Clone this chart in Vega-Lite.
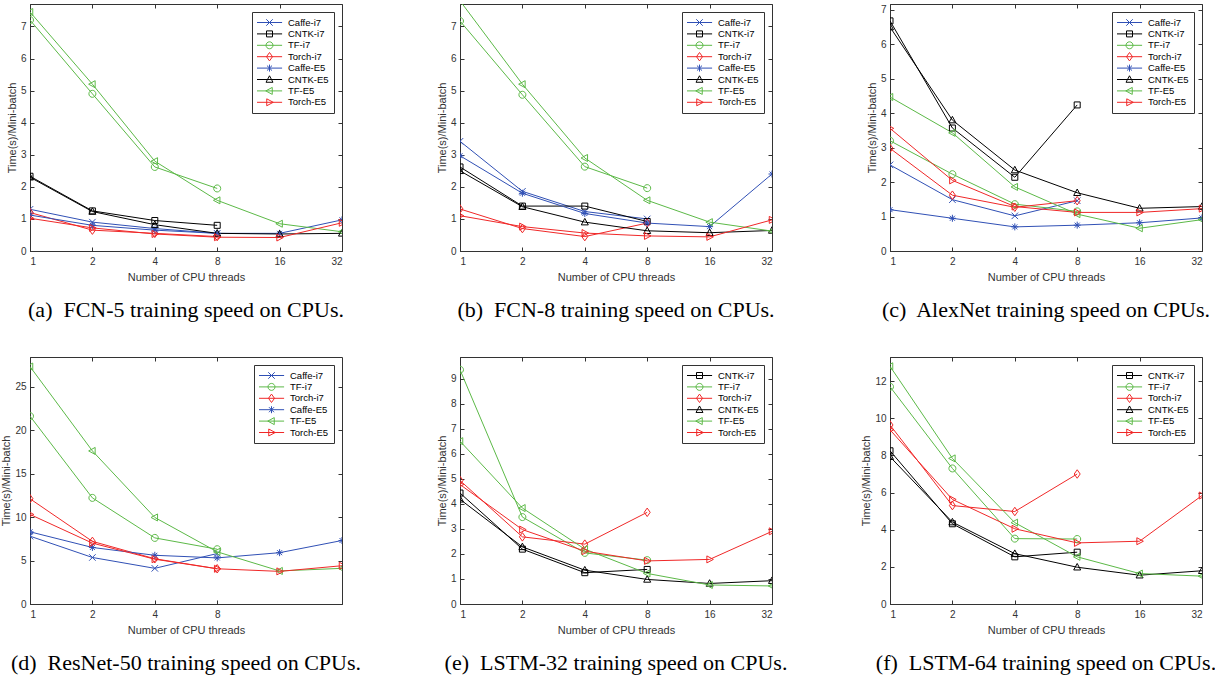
{
"$schema": "https://vega.github.io/schema/vega-lite/v6.json",
"padding": {"left": 0, "top": 3, "right": 5, "bottom": 5},
"data": {"values": [
{"panel":"a","series":"Caffe-i7","threads":1,"time":1.3},{"panel":"a","series":"Caffe-i7","threads":2,"time":0.9},{"panel":"a","series":"Caffe-i7","threads":4,"time":0.7},{"panel":"a","series":"Caffe-i7","threads":8,"time":0.55},
{"panel":"a","series":"CNTK-i7","threads":1,"time":2.33},{"panel":"a","series":"CNTK-i7","threads":2,"time":1.25},{"panel":"a","series":"CNTK-i7","threads":4,"time":0.95},{"panel":"a","series":"CNTK-i7","threads":8,"time":0.8},
{"panel":"a","series":"TF-i7","threads":1,"time":7.2},{"panel":"a","series":"TF-i7","threads":2,"time":4.9},{"panel":"a","series":"TF-i7","threads":4,"time":2.62},{"panel":"a","series":"TF-i7","threads":8,"time":1.95},
{"panel":"a","series":"Torch-i7","threads":1,"time":1.2},{"panel":"a","series":"Torch-i7","threads":2,"time":0.65},{"panel":"a","series":"Torch-i7","threads":4,"time":0.55},{"panel":"a","series":"Torch-i7","threads":8,"time":0.45},
{"panel":"a","series":"Caffe-E5","threads":1,"time":1.12},{"panel":"a","series":"Caffe-E5","threads":2,"time":0.8},{"panel":"a","series":"Caffe-E5","threads":4,"time":0.65},{"panel":"a","series":"Caffe-E5","threads":8,"time":0.55},{"panel":"a","series":"Caffe-E5","threads":16,"time":0.55},{"panel":"a","series":"Caffe-E5","threads":32,"time":0.97},
{"panel":"a","series":"CNTK-E5","threads":1,"time":2.3},{"panel":"a","series":"CNTK-E5","threads":2,"time":1.23},{"panel":"a","series":"CNTK-E5","threads":4,"time":0.82},{"panel":"a","series":"CNTK-E5","threads":8,"time":0.55},{"panel":"a","series":"CNTK-E5","threads":16,"time":0.53},{"panel":"a","series":"CNTK-E5","threads":32,"time":0.55},
{"panel":"a","series":"TF-E5","threads":1,"time":7.45},{"panel":"a","series":"TF-E5","threads":2,"time":5.2},{"panel":"a","series":"TF-E5","threads":4,"time":2.8},{"panel":"a","series":"TF-E5","threads":8,"time":1.58},{"panel":"a","series":"TF-E5","threads":16,"time":0.85},{"panel":"a","series":"TF-E5","threads":32,"time":0.6},
{"panel":"a","series":"Torch-E5","threads":1,"time":1.02},{"panel":"a","series":"Torch-E5","threads":2,"time":0.72},{"panel":"a","series":"Torch-E5","threads":4,"time":0.53},{"panel":"a","series":"Torch-E5","threads":8,"time":0.43},{"panel":"a","series":"Torch-E5","threads":16,"time":0.42},{"panel":"a","series":"Torch-E5","threads":32,"time":0.88},

{"panel":"b","series":"Caffe-i7","threads":1,"time":3.42},{"panel":"b","series":"Caffe-i7","threads":2,"time":1.86},{"panel":"b","series":"Caffe-i7","threads":4,"time":1.23},{"panel":"b","series":"Caffe-i7","threads":8,"time":1.0},
{"panel":"b","series":"CNTK-i7","threads":1,"time":2.62},{"panel":"b","series":"CNTK-i7","threads":2,"time":1.4},{"panel":"b","series":"CNTK-i7","threads":4,"time":1.4},{"panel":"b","series":"CNTK-i7","threads":8,"time":0.92},
{"panel":"b","series":"TF-i7","threads":1,"time":7.17},{"panel":"b","series":"TF-i7","threads":2,"time":4.87},{"panel":"b","series":"TF-i7","threads":4,"time":2.63},{"panel":"b","series":"TF-i7","threads":8,"time":1.96},
{"panel":"b","series":"Torch-i7","threads":1,"time":1.31},{"panel":"b","series":"Torch-i7","threads":2,"time":0.7},{"panel":"b","series":"Torch-i7","threads":4,"time":0.45},{"panel":"b","series":"Torch-i7","threads":8,"time":0.87},
{"panel":"b","series":"Caffe-E5","threads":1,"time":2.97},{"panel":"b","series":"Caffe-E5","threads":2,"time":1.8},{"panel":"b","series":"Caffe-E5","threads":4,"time":1.17},{"panel":"b","series":"Caffe-E5","threads":8,"time":0.87},{"panel":"b","series":"Caffe-E5","threads":16,"time":0.76},{"panel":"b","series":"Caffe-E5","threads":32,"time":2.4},
{"panel":"b","series":"CNTK-E5","threads":1,"time":2.5},{"panel":"b","series":"CNTK-E5","threads":2,"time":1.38},{"panel":"b","series":"CNTK-E5","threads":4,"time":0.9},{"panel":"b","series":"CNTK-E5","threads":8,"time":0.63},{"panel":"b","series":"CNTK-E5","threads":16,"time":0.57},{"panel":"b","series":"CNTK-E5","threads":32,"time":0.64},
{"panel":"b","series":"TF-E5","threads":1,"time":7.8},{"panel":"b","series":"TF-E5","threads":2,"time":5.2},{"panel":"b","series":"TF-E5","threads":4,"time":2.9},{"panel":"b","series":"TF-E5","threads":8,"time":1.58},{"panel":"b","series":"TF-E5","threads":16,"time":0.9},{"panel":"b","series":"TF-E5","threads":32,"time":0.62},
{"panel":"b","series":"Torch-E5","threads":1,"time":1.1},{"panel":"b","series":"Torch-E5","threads":2,"time":0.76},{"panel":"b","series":"Torch-E5","threads":4,"time":0.56},{"panel":"b","series":"Torch-E5","threads":8,"time":0.47},{"panel":"b","series":"Torch-E5","threads":16,"time":0.44},{"panel":"b","series":"Torch-E5","threads":32,"time":0.97},

{"panel":"c","series":"Caffe-i7","threads":1,"time":2.5},{"panel":"c","series":"Caffe-i7","threads":2,"time":1.49},{"panel":"c","series":"Caffe-i7","threads":4,"time":1.02},{"panel":"c","series":"Caffe-i7","threads":8,"time":1.46},
{"panel":"c","series":"CNTK-i7","threads":1,"time":6.68},{"panel":"c","series":"CNTK-i7","threads":2,"time":3.57},{"panel":"c","series":"CNTK-i7","threads":4,"time":2.14},{"panel":"c","series":"CNTK-i7","threads":8,"time":4.24},
{"panel":"c","series":"TF-i7","threads":1,"time":3.2},{"panel":"c","series":"TF-i7","threads":2,"time":2.23},{"panel":"c","series":"TF-i7","threads":4,"time":1.36},{"panel":"c","series":"TF-i7","threads":8,"time":1.15},
{"panel":"c","series":"Torch-i7","threads":1,"time":2.98},{"panel":"c","series":"Torch-i7","threads":2,"time":1.62},{"panel":"c","series":"Torch-i7","threads":4,"time":1.27},{"panel":"c","series":"Torch-i7","threads":8,"time":1.46},
{"panel":"c","series":"Caffe-E5","threads":1,"time":1.2},{"panel":"c","series":"Caffe-E5","threads":2,"time":0.95},{"panel":"c","series":"Caffe-E5","threads":4,"time":0.7},{"panel":"c","series":"Caffe-E5","threads":8,"time":0.75},{"panel":"c","series":"Caffe-E5","threads":16,"time":0.82},{"panel":"c","series":"Caffe-E5","threads":32,"time":0.96},
{"panel":"c","series":"CNTK-E5","threads":1,"time":6.5},{"panel":"c","series":"CNTK-E5","threads":2,"time":3.8},{"panel":"c","series":"CNTK-E5","threads":4,"time":2.35},{"panel":"c","series":"CNTK-E5","threads":8,"time":1.69},{"panel":"c","series":"CNTK-E5","threads":16,"time":1.24},{"panel":"c","series":"CNTK-E5","threads":32,"time":1.29},
{"panel":"c","series":"TF-E5","threads":1,"time":4.47},{"panel":"c","series":"TF-E5","threads":2,"time":3.43},{"panel":"c","series":"TF-E5","threads":4,"time":1.86},{"panel":"c","series":"TF-E5","threads":8,"time":1.07},{"panel":"c","series":"TF-E5","threads":16,"time":0.66},{"panel":"c","series":"TF-E5","threads":32,"time":0.91},
{"panel":"c","series":"Torch-E5","threads":1,"time":3.56},{"panel":"c","series":"Torch-E5","threads":2,"time":2.05},{"panel":"c","series":"Torch-E5","threads":4,"time":1.29},{"panel":"c","series":"Torch-E5","threads":8,"time":1.12},{"panel":"c","series":"Torch-E5","threads":16,"time":1.12},{"panel":"c","series":"Torch-E5","threads":32,"time":1.23},

{"panel":"d","series":"Caffe-i7","threads":1,"time":7.8},{"panel":"d","series":"Caffe-i7","threads":2,"time":5.35},{"panel":"d","series":"Caffe-i7","threads":4,"time":4.1},{"panel":"d","series":"Caffe-i7","threads":8,"time":5.8},
{"panel":"d","series":"TF-i7","threads":1,"time":21.6},{"panel":"d","series":"TF-i7","threads":2,"time":12.2},{"panel":"d","series":"TF-i7","threads":4,"time":7.6},{"panel":"d","series":"TF-i7","threads":8,"time":6.3},
{"panel":"d","series":"Torch-i7","threads":1,"time":12.1},{"panel":"d","series":"Torch-i7","threads":2,"time":7.2},{"panel":"d","series":"Torch-i7","threads":4,"time":5.2},{"panel":"d","series":"Torch-i7","threads":8,"time":4.05},
{"panel":"d","series":"Caffe-E5","threads":1,"time":8.3},{"panel":"d","series":"Caffe-E5","threads":2,"time":6.5},{"panel":"d","series":"Caffe-E5","threads":4,"time":5.6},{"panel":"d","series":"Caffe-E5","threads":8,"time":5.3},{"panel":"d","series":"Caffe-E5","threads":16,"time":5.9},{"panel":"d","series":"Caffe-E5","threads":32,"time":7.3},
{"panel":"d","series":"TF-E5","threads":1,"time":27.3},{"panel":"d","series":"TF-E5","threads":2,"time":17.6},{"panel":"d","series":"TF-E5","threads":4,"time":9.95},{"panel":"d","series":"TF-E5","threads":8,"time":6.0},{"panel":"d","series":"TF-E5","threads":16,"time":3.8},{"panel":"d","series":"TF-E5","threads":32,"time":4.1},
{"panel":"d","series":"Torch-E5","threads":1,"time":10.3},{"panel":"d","series":"Torch-E5","threads":2,"time":7.0},{"panel":"d","series":"Torch-E5","threads":4,"time":5.15},{"panel":"d","series":"Torch-E5","threads":8,"time":4.05},{"panel":"d","series":"Torch-E5","threads":16,"time":3.75},{"panel":"d","series":"Torch-E5","threads":32,"time":4.4},

{"panel":"e","series":"CNTK-i7","threads":1,"time":4.43},{"panel":"e","series":"CNTK-i7","threads":2,"time":2.19},{"panel":"e","series":"CNTK-i7","threads":4,"time":1.25},{"panel":"e","series":"CNTK-i7","threads":8,"time":1.38},
{"panel":"e","series":"TF-i7","threads":1,"time":9.35},{"panel":"e","series":"TF-i7","threads":2,"time":3.47},{"panel":"e","series":"TF-i7","threads":4,"time":2.04},{"panel":"e","series":"TF-i7","threads":8,"time":1.75},
{"panel":"e","series":"Torch-i7","threads":1,"time":4.93},{"panel":"e","series":"Torch-i7","threads":2,"time":2.68},{"panel":"e","series":"Torch-i7","threads":4,"time":2.39},{"panel":"e","series":"Torch-i7","threads":8,"time":3.66},
{"panel":"e","series":"CNTK-E5","threads":1,"time":4.18},{"panel":"e","series":"CNTK-E5","threads":2,"time":2.28},{"panel":"e","series":"CNTK-E5","threads":4,"time":1.35},{"panel":"e","series":"CNTK-E5","threads":8,"time":0.98},{"panel":"e","series":"CNTK-E5","threads":16,"time":0.82},{"panel":"e","series":"CNTK-E5","threads":32,"time":0.93},
{"panel":"e","series":"TF-E5","threads":1,"time":6.5},{"panel":"e","series":"TF-E5","threads":2,"time":3.83},{"panel":"e","series":"TF-E5","threads":4,"time":2.19},{"panel":"e","series":"TF-E5","threads":8,"time":1.22},{"panel":"e","series":"TF-E5","threads":16,"time":0.76},{"panel":"e","series":"TF-E5","threads":32,"time":0.72},
{"panel":"e","series":"Torch-E5","threads":1,"time":4.77},{"panel":"e","series":"Torch-E5","threads":2,"time":2.97},{"panel":"e","series":"Torch-E5","threads":4,"time":2.11},{"panel":"e","series":"Torch-E5","threads":8,"time":1.72},{"panel":"e","series":"Torch-E5","threads":16,"time":1.78},{"panel":"e","series":"Torch-E5","threads":32,"time":2.9},

{"panel":"f","series":"CNTK-i7","threads":1,"time":8.25},{"panel":"f","series":"CNTK-i7","threads":2,"time":4.32},{"panel":"f","series":"CNTK-i7","threads":4,"time":2.54},{"panel":"f","series":"CNTK-i7","threads":8,"time":2.79},
{"panel":"f","series":"TF-i7","threads":1,"time":11.7},{"panel":"f","series":"TF-i7","threads":2,"time":7.3},{"panel":"f","series":"TF-i7","threads":4,"time":3.52},{"panel":"f","series":"TF-i7","threads":8,"time":3.5},
{"panel":"f","series":"Torch-i7","threads":1,"time":9.64},{"panel":"f","series":"Torch-i7","threads":2,"time":5.3},{"panel":"f","series":"Torch-i7","threads":4,"time":4.98},{"panel":"f","series":"Torch-i7","threads":8,"time":7.0},
{"panel":"f","series":"CNTK-E5","threads":1,"time":7.93},{"panel":"f","series":"CNTK-E5","threads":2,"time":4.41},{"panel":"f","series":"CNTK-E5","threads":4,"time":2.71},{"panel":"f","series":"CNTK-E5","threads":8,"time":1.98},{"panel":"f","series":"CNTK-E5","threads":16,"time":1.55},{"panel":"f","series":"CNTK-E5","threads":32,"time":1.79},
{"panel":"f","series":"TF-E5","threads":1,"time":12.8},{"panel":"f","series":"TF-E5","threads":2,"time":7.84},{"panel":"f","series":"TF-E5","threads":4,"time":4.38},{"panel":"f","series":"TF-E5","threads":8,"time":2.54},{"panel":"f","series":"TF-E5","threads":16,"time":1.64},{"panel":"f","series":"TF-E5","threads":32,"time":1.5},
{"panel":"f","series":"Torch-E5","threads":1,"time":9.38},{"panel":"f","series":"Torch-E5","threads":2,"time":5.63},{"panel":"f","series":"Torch-E5","threads":4,"time":4.05},{"panel":"f","series":"Torch-E5","threads":8,"time":3.29},{"panel":"f","series":"Torch-E5","threads":16,"time":3.38},{"panel":"f","series":"Torch-E5","threads":32,"time":5.84}
]},
"columns": 3,
"spacing": {"row": 106, "column": 118},
"bounds": "flush",
"resolve": {"scale": {"color": "independent", "shape": "independent", "x": "independent", "y": "independent"}},
"concat": [
{
 "width": 312, "height": 247,
 "title": {"text": "(a)\u00a0 FCN-5 training speed on CPUs."},
 "transform": [{"filter": "datum.panel == 'a'"}],
 "resolve": {"scale": {"color": "independent", "shape": "independent"}, "axis": {"x": "independent", "y": "independent"}},
 "layer": [
  {"mark": {"type": "line", "clip": true, "strokeWidth": 1},
   "encoding": {
    "x": {"field": "threads", "type": "quantitative", "scale": {"type": "log", "base": 2, "domain": [1, 32], "nice": false}, "axis": {"values": [1, 2, 4, 8, 16, 32], "format": "d", "title": "Number of CPU threads"}},
    "y": {"field": "time", "type": "quantitative", "scale": {"domain": [0, 7.7], "nice": false}, "axis": {"values": [0, 1, 2, 3, 4, 5, 6, 7], "title": "Time(s)/Mini-batch"}},
    "color": {"field": "series", "type": "nominal", "scale": {"domain": ["Caffe-i7","CNTK-i7","TF-i7","Torch-i7","Caffe-E5","CNTK-E5","TF-E5","Torch-E5"], "range": ["#3050b5","#000000","#5cb947","#f02828","#3050b5","#000000","#5cb947","#f02828"]}, "legend": null}
   }},
  {"mark": {"type": "point", "clip": true, "filled": false, "size": 100, "strokeWidth": 1, "opacity": 1},
   "encoding": {
    "x": {"field": "threads", "type": "quantitative", "scale": {"type": "log", "base": 2, "domain": [1, 32], "nice": false}, "axis": {"orient": "top", "values": [1, 2, 4, 8, 16, 32], "labels": false, "title": null, "domain": false}},
    "y": {"field": "time", "type": "quantitative", "scale": {"domain": [0, 7.7], "nice": false}, "axis": {"orient": "right", "values": [0, 1, 2, 3, 4, 5, 6, 7], "labels": false, "title": null, "domain": false}},
    "color": {"field": "series", "type": "nominal", "scale": {"domain": ["Caffe-i7","CNTK-i7","TF-i7","Torch-i7","Caffe-E5","CNTK-E5","TF-E5","Torch-E5"], "range": ["#3050b5","#000000","#5cb947","#f02828","#3050b5","#000000","#5cb947","#f02828"]}, "legend": null},
    "shape": {"field": "series", "type": "nominal", "scale": {"domain": ["Caffe-i7","CNTK-i7","TF-i7","Torch-i7","Caffe-E5","CNTK-E5","TF-E5","Torch-E5"], "range": ["M-0.65,-0.65L0.65,0.65M-0.65,0.65L0.65,-0.65","M-0.6,-0.6L0.6,-0.6L0.6,0.6L-0.6,0.6Z","M0.7,0A0.7,0.7,0,1,1,-0.7,0A0.7,0.7,0,1,1,0.7,0","M0,-0.85L0.6,0L0,0.85L-0.6,0Z","M-0.7,0L0.7,0M0,-0.7L0,0.7M-0.5,-0.5L0.5,0.5M-0.5,0.5L0.5,-0.5","M0,-0.75L0.7,0.55L-0.7,0.55Z","M-0.75,0L0.55,-0.7L0.55,0.7Z","M0.75,0L-0.55,-0.7L-0.55,0.7Z"]}, "legend": null}
   }},
  {"mark": {"type": "point", "clip": true, "filled": false, "size": 100, "strokeWidth": 1, "opacity": 0},
   "encoding": {
    "x": {"field": "threads", "type": "quantitative", "scale": {"type": "log", "base": 2, "domain": [1, 32], "nice": false}, "axis": null},
    "y": {"field": "time", "type": "quantitative", "scale": {"domain": [0, 7.7], "nice": false}, "axis": null},
    "color": {"field": "series", "type": "nominal", "scale": {"domain": ["Caffe-i7","CNTK-i7","TF-i7","Torch-i7","Caffe-E5","CNTK-E5","TF-E5","Torch-E5"], "range": ["#3050b5","#000000","#5cb947","#f02828","#3050b5","#000000","#5cb947","#f02828"]}, "legend": {"title": null, "symbolSize": 576, "symbolOffset": 0, "labelOffset": 6, "rowPadding": 0.4, "clipHeight": 11}},
    "shape": {"field": "series", "type": "nominal", "scale": {"domain": ["Caffe-i7","CNTK-i7","TF-i7","Torch-i7","Caffe-E5","CNTK-E5","TF-E5","Torch-E5"], "range": ["M-1.05,0L1.05,0M-0.27,-0.27L0.27,0.27M-0.27,0.27L0.27,-0.27","M-1.05,0L1.05,0M-0.25,-0.25L0.25,-0.25L0.25,0.25L-0.25,0.25Z","M-1.05,0L1.05,0M0.29,0A0.29,0.29,0,1,1,-0.29,0A0.29,0.29,0,1,1,0.29,0","M-1.05,0L1.05,0M0,-0.35L0.25,0L0,0.35L-0.25,0Z","M-1.05,0L1.05,0M0,-0.29L0,0.29M-0.21,-0.21L0.21,0.21M-0.21,0.21L0.21,-0.21","M-1.05,0L1.05,0M0,-0.31L0.29,0.23L-0.29,0.23Z","M-1.05,0L1.05,0M-0.31,0L0.23,-0.29L0.23,0.29Z","M-1.05,0L1.05,0M0.31,0L-0.23,-0.29L-0.23,0.29Z"]}, "legend": {"title": null, "symbolSize": 576, "symbolOffset": 0, "labelOffset": 6, "rowPadding": 0.4, "clipHeight": 11}}
   }}
 ]
},
{
 "width": 312, "height": 247,
 "title": {"text": "(b)\u00a0 FCN-8 training speed on CPUs."},
 "transform": [{"filter": "datum.panel == 'b'"}],
 "resolve": {"scale": {"color": "independent", "shape": "independent"}, "axis": {"x": "independent", "y": "independent"}},
 "layer": [
  {"mark": {"type": "line", "clip": true, "strokeWidth": 1},
   "encoding": {
    "x": {"field": "threads", "type": "quantitative", "scale": {"type": "log", "base": 2, "domain": [1, 32], "nice": false}, "axis": {"values": [1, 2, 4, 8, 16, 32], "format": "d", "title": "Number of CPU threads"}},
    "y": {"field": "time", "type": "quantitative", "scale": {"domain": [0, 7.7], "nice": false}, "axis": {"values": [0, 1, 2, 3, 4, 5, 6, 7], "title": "Time(s)/Mini-batch"}},
    "color": {"field": "series", "type": "nominal", "scale": {"domain": ["Caffe-i7","CNTK-i7","TF-i7","Torch-i7","Caffe-E5","CNTK-E5","TF-E5","Torch-E5"], "range": ["#3050b5","#000000","#5cb947","#f02828","#3050b5","#000000","#5cb947","#f02828"]}, "legend": null}
   }},
  {"mark": {"type": "point", "clip": true, "filled": false, "size": 100, "strokeWidth": 1, "opacity": 1},
   "encoding": {
    "x": {"field": "threads", "type": "quantitative", "scale": {"type": "log", "base": 2, "domain": [1, 32], "nice": false}, "axis": {"orient": "top", "values": [1, 2, 4, 8, 16, 32], "labels": false, "title": null, "domain": false}},
    "y": {"field": "time", "type": "quantitative", "scale": {"domain": [0, 7.7], "nice": false}, "axis": {"orient": "right", "values": [0, 1, 2, 3, 4, 5, 6, 7], "labels": false, "title": null, "domain": false}},
    "color": {"field": "series", "type": "nominal", "scale": {"domain": ["Caffe-i7","CNTK-i7","TF-i7","Torch-i7","Caffe-E5","CNTK-E5","TF-E5","Torch-E5"], "range": ["#3050b5","#000000","#5cb947","#f02828","#3050b5","#000000","#5cb947","#f02828"]}, "legend": null},
    "shape": {"field": "series", "type": "nominal", "scale": {"domain": ["Caffe-i7","CNTK-i7","TF-i7","Torch-i7","Caffe-E5","CNTK-E5","TF-E5","Torch-E5"], "range": ["M-0.65,-0.65L0.65,0.65M-0.65,0.65L0.65,-0.65","M-0.6,-0.6L0.6,-0.6L0.6,0.6L-0.6,0.6Z","M0.7,0A0.7,0.7,0,1,1,-0.7,0A0.7,0.7,0,1,1,0.7,0","M0,-0.85L0.6,0L0,0.85L-0.6,0Z","M-0.7,0L0.7,0M0,-0.7L0,0.7M-0.5,-0.5L0.5,0.5M-0.5,0.5L0.5,-0.5","M0,-0.75L0.7,0.55L-0.7,0.55Z","M-0.75,0L0.55,-0.7L0.55,0.7Z","M0.75,0L-0.55,-0.7L-0.55,0.7Z"]}, "legend": null}
   }},
  {"mark": {"type": "point", "clip": true, "filled": false, "size": 100, "strokeWidth": 1, "opacity": 0},
   "encoding": {
    "x": {"field": "threads", "type": "quantitative", "scale": {"type": "log", "base": 2, "domain": [1, 32], "nice": false}, "axis": null},
    "y": {"field": "time", "type": "quantitative", "scale": {"domain": [0, 7.7], "nice": false}, "axis": null},
    "color": {"field": "series", "type": "nominal", "scale": {"domain": ["Caffe-i7","CNTK-i7","TF-i7","Torch-i7","Caffe-E5","CNTK-E5","TF-E5","Torch-E5"], "range": ["#3050b5","#000000","#5cb947","#f02828","#3050b5","#000000","#5cb947","#f02828"]}, "legend": {"title": null, "symbolSize": 576, "symbolOffset": 0, "labelOffset": 6, "rowPadding": 0.4, "clipHeight": 11}},
    "shape": {"field": "series", "type": "nominal", "scale": {"domain": ["Caffe-i7","CNTK-i7","TF-i7","Torch-i7","Caffe-E5","CNTK-E5","TF-E5","Torch-E5"], "range": ["M-1.05,0L1.05,0M-0.27,-0.27L0.27,0.27M-0.27,0.27L0.27,-0.27","M-1.05,0L1.05,0M-0.25,-0.25L0.25,-0.25L0.25,0.25L-0.25,0.25Z","M-1.05,0L1.05,0M0.29,0A0.29,0.29,0,1,1,-0.29,0A0.29,0.29,0,1,1,0.29,0","M-1.05,0L1.05,0M0,-0.35L0.25,0L0,0.35L-0.25,0Z","M-1.05,0L1.05,0M0,-0.29L0,0.29M-0.21,-0.21L0.21,0.21M-0.21,0.21L0.21,-0.21","M-1.05,0L1.05,0M0,-0.31L0.29,0.23L-0.29,0.23Z","M-1.05,0L1.05,0M-0.31,0L0.23,-0.29L0.23,0.29Z","M-1.05,0L1.05,0M0.31,0L-0.23,-0.29L-0.23,0.29Z"]}, "legend": {"title": null, "symbolSize": 576, "symbolOffset": 0, "labelOffset": 6, "rowPadding": 0.4, "clipHeight": 11}}
   }}
 ]
},
{
 "width": 312, "height": 247,
 "title": {"text": "(c)\u00a0 AlexNet training speed on CPUs."},
 "transform": [{"filter": "datum.panel == 'c'"}],
 "resolve": {"scale": {"color": "independent", "shape": "independent"}, "axis": {"x": "independent", "y": "independent"}},
 "layer": [
  {"mark": {"type": "line", "clip": true, "strokeWidth": 1},
   "encoding": {
    "x": {"field": "threads", "type": "quantitative", "scale": {"type": "log", "base": 2, "domain": [1, 32], "nice": false}, "axis": {"values": [1, 2, 4, 8, 16, 32], "format": "d", "title": "Number of CPU threads"}},
    "y": {"field": "time", "type": "quantitative", "scale": {"domain": [0, 7.17], "nice": false}, "axis": {"values": [0, 1, 2, 3, 4, 5, 6, 7], "title": "Time(s)/Mini-batch"}},
    "color": {"field": "series", "type": "nominal", "scale": {"domain": ["Caffe-i7","CNTK-i7","TF-i7","Torch-i7","Caffe-E5","CNTK-E5","TF-E5","Torch-E5"], "range": ["#3050b5","#000000","#5cb947","#f02828","#3050b5","#000000","#5cb947","#f02828"]}, "legend": null}
   }},
  {"mark": {"type": "point", "clip": true, "filled": false, "size": 100, "strokeWidth": 1, "opacity": 1},
   "encoding": {
    "x": {"field": "threads", "type": "quantitative", "scale": {"type": "log", "base": 2, "domain": [1, 32], "nice": false}, "axis": {"orient": "top", "values": [1, 2, 4, 8, 16, 32], "labels": false, "title": null, "domain": false}},
    "y": {"field": "time", "type": "quantitative", "scale": {"domain": [0, 7.17], "nice": false}, "axis": {"orient": "right", "values": [0, 1, 2, 3, 4, 5, 6, 7], "labels": false, "title": null, "domain": false}},
    "color": {"field": "series", "type": "nominal", "scale": {"domain": ["Caffe-i7","CNTK-i7","TF-i7","Torch-i7","Caffe-E5","CNTK-E5","TF-E5","Torch-E5"], "range": ["#3050b5","#000000","#5cb947","#f02828","#3050b5","#000000","#5cb947","#f02828"]}, "legend": null},
    "shape": {"field": "series", "type": "nominal", "scale": {"domain": ["Caffe-i7","CNTK-i7","TF-i7","Torch-i7","Caffe-E5","CNTK-E5","TF-E5","Torch-E5"], "range": ["M-0.65,-0.65L0.65,0.65M-0.65,0.65L0.65,-0.65","M-0.6,-0.6L0.6,-0.6L0.6,0.6L-0.6,0.6Z","M0.7,0A0.7,0.7,0,1,1,-0.7,0A0.7,0.7,0,1,1,0.7,0","M0,-0.85L0.6,0L0,0.85L-0.6,0Z","M-0.7,0L0.7,0M0,-0.7L0,0.7M-0.5,-0.5L0.5,0.5M-0.5,0.5L0.5,-0.5","M0,-0.75L0.7,0.55L-0.7,0.55Z","M-0.75,0L0.55,-0.7L0.55,0.7Z","M0.75,0L-0.55,-0.7L-0.55,0.7Z"]}, "legend": null}
   }},
  {"mark": {"type": "point", "clip": true, "filled": false, "size": 100, "strokeWidth": 1, "opacity": 0},
   "encoding": {
    "x": {"field": "threads", "type": "quantitative", "scale": {"type": "log", "base": 2, "domain": [1, 32], "nice": false}, "axis": null},
    "y": {"field": "time", "type": "quantitative", "scale": {"domain": [0, 7.17], "nice": false}, "axis": null},
    "color": {"field": "series", "type": "nominal", "scale": {"domain": ["Caffe-i7","CNTK-i7","TF-i7","Torch-i7","Caffe-E5","CNTK-E5","TF-E5","Torch-E5"], "range": ["#3050b5","#000000","#5cb947","#f02828","#3050b5","#000000","#5cb947","#f02828"]}, "legend": {"title": null, "symbolSize": 576, "symbolOffset": 0, "labelOffset": 6, "rowPadding": 0.4, "clipHeight": 11}},
    "shape": {"field": "series", "type": "nominal", "scale": {"domain": ["Caffe-i7","CNTK-i7","TF-i7","Torch-i7","Caffe-E5","CNTK-E5","TF-E5","Torch-E5"], "range": ["M-1.05,0L1.05,0M-0.27,-0.27L0.27,0.27M-0.27,0.27L0.27,-0.27","M-1.05,0L1.05,0M-0.25,-0.25L0.25,-0.25L0.25,0.25L-0.25,0.25Z","M-1.05,0L1.05,0M0.29,0A0.29,0.29,0,1,1,-0.29,0A0.29,0.29,0,1,1,0.29,0","M-1.05,0L1.05,0M0,-0.35L0.25,0L0,0.35L-0.25,0Z","M-1.05,0L1.05,0M0,-0.29L0,0.29M-0.21,-0.21L0.21,0.21M-0.21,0.21L0.21,-0.21","M-1.05,0L1.05,0M0,-0.31L0.29,0.23L-0.29,0.23Z","M-1.05,0L1.05,0M-0.31,0L0.23,-0.29L0.23,0.29Z","M-1.05,0L1.05,0M0.31,0L-0.23,-0.29L-0.23,0.29Z"]}, "legend": {"title": null, "symbolSize": 576, "symbolOffset": 0, "labelOffset": 6, "rowPadding": 0.4, "clipHeight": 11}}
   }}
 ]
},
{
 "width": 312, "height": 247,
 "title": {"text": "(d)\u00a0 ResNet-50 training speed on CPUs."},
 "transform": [{"filter": "datum.panel == 'd'"}],
 "resolve": {"scale": {"color": "independent", "shape": "independent"}, "axis": {"x": "independent", "y": "independent"}},
 "layer": [
  {"mark": {"type": "line", "clip": true, "strokeWidth": 1},
   "encoding": {
    "x": {"field": "threads", "type": "quantitative", "scale": {"type": "log", "base": 2, "domain": [1, 32], "nice": false}, "axis": {"values": [1, 2, 4, 8], "format": "d", "title": "Number of CPU threads"}},
    "y": {"field": "time", "type": "quantitative", "scale": {"domain": [0, 28.4], "nice": false}, "axis": {"values": [0, 5, 10, 15, 20, 25], "title": "Time(s)/Mini-batch"}},
    "color": {"field": "series", "type": "nominal", "scale": {"domain": ["Caffe-i7","TF-i7","Torch-i7","Caffe-E5","TF-E5","Torch-E5"], "range": ["#3050b5","#5cb947","#f02828","#3050b5","#5cb947","#f02828"]}, "legend": null}
   }},
  {"mark": {"type": "point", "clip": true, "filled": false, "size": 100, "strokeWidth": 1, "opacity": 1},
   "encoding": {
    "x": {"field": "threads", "type": "quantitative", "scale": {"type": "log", "base": 2, "domain": [1, 32], "nice": false}, "axis": {"orient": "top", "values": [1, 2, 4, 8], "labels": false, "title": null, "domain": false}},
    "y": {"field": "time", "type": "quantitative", "scale": {"domain": [0, 28.4], "nice": false}, "axis": {"orient": "right", "values": [0, 5, 10, 15, 20, 25], "labels": false, "title": null, "domain": false}},
    "color": {"field": "series", "type": "nominal", "scale": {"domain": ["Caffe-i7","TF-i7","Torch-i7","Caffe-E5","TF-E5","Torch-E5"], "range": ["#3050b5","#5cb947","#f02828","#3050b5","#5cb947","#f02828"]}, "legend": null},
    "shape": {"field": "series", "type": "nominal", "scale": {"domain": ["Caffe-i7","TF-i7","Torch-i7","Caffe-E5","TF-E5","Torch-E5"], "range": ["M-0.65,-0.65L0.65,0.65M-0.65,0.65L0.65,-0.65","M0.7,0A0.7,0.7,0,1,1,-0.7,0A0.7,0.7,0,1,1,0.7,0","M0,-0.85L0.6,0L0,0.85L-0.6,0Z","M-0.7,0L0.7,0M0,-0.7L0,0.7M-0.5,-0.5L0.5,0.5M-0.5,0.5L0.5,-0.5","M-0.75,0L0.55,-0.7L0.55,0.7Z","M0.75,0L-0.55,-0.7L-0.55,0.7Z"]}, "legend": null}
   }},
  {"mark": {"type": "point", "clip": true, "filled": false, "size": 100, "strokeWidth": 1, "opacity": 0},
   "encoding": {
    "x": {"field": "threads", "type": "quantitative", "scale": {"type": "log", "base": 2, "domain": [1, 32], "nice": false}, "axis": null},
    "y": {"field": "time", "type": "quantitative", "scale": {"domain": [0, 28.4], "nice": false}, "axis": null},
    "color": {"field": "series", "type": "nominal", "scale": {"domain": ["Caffe-i7","TF-i7","Torch-i7","Caffe-E5","TF-E5","Torch-E5"], "range": ["#3050b5","#5cb947","#f02828","#3050b5","#5cb947","#f02828"]}, "legend": {"title": null, "symbolSize": 576, "symbolOffset": 0, "labelOffset": 6, "rowPadding": 0.4, "clipHeight": 11}},
    "shape": {"field": "series", "type": "nominal", "scale": {"domain": ["Caffe-i7","TF-i7","Torch-i7","Caffe-E5","TF-E5","Torch-E5"], "range": ["M-1.05,0L1.05,0M-0.27,-0.27L0.27,0.27M-0.27,0.27L0.27,-0.27","M-1.05,0L1.05,0M0.29,0A0.29,0.29,0,1,1,-0.29,0A0.29,0.29,0,1,1,0.29,0","M-1.05,0L1.05,0M0,-0.35L0.25,0L0,0.35L-0.25,0Z","M-1.05,0L1.05,0M0,-0.29L0,0.29M-0.21,-0.21L0.21,0.21M-0.21,0.21L0.21,-0.21","M-1.05,0L1.05,0M-0.31,0L0.23,-0.29L0.23,0.29Z","M-1.05,0L1.05,0M0.31,0L-0.23,-0.29L-0.23,0.29Z"]}, "legend": {"title": null, "symbolSize": 576, "symbolOffset": 0, "labelOffset": 6, "rowPadding": 0.4, "clipHeight": 11}}
   }}
 ]
},
{
 "width": 312, "height": 247,
 "title": {"text": "(e)\u00a0 LSTM-32 training speed on CPUs."},
 "transform": [{"filter": "datum.panel == 'e'"}],
 "resolve": {"scale": {"color": "independent", "shape": "independent"}, "axis": {"x": "independent", "y": "independent"}},
 "layer": [
  {"mark": {"type": "line", "clip": true, "strokeWidth": 1},
   "encoding": {
    "x": {"field": "threads", "type": "quantitative", "scale": {"type": "log", "base": 2, "domain": [1, 32], "nice": false}, "axis": {"values": [1, 2, 4, 8, 16, 32], "format": "d", "title": "Number of CPU threads"}},
    "y": {"field": "time", "type": "quantitative", "scale": {"domain": [0, 9.86], "nice": false}, "axis": {"values": [0, 1, 2, 3, 4, 5, 6, 7, 8, 9], "title": "Time(s)/Mini-batch"}},
    "color": {"field": "series", "type": "nominal", "scale": {"domain": ["CNTK-i7","TF-i7","Torch-i7","CNTK-E5","TF-E5","Torch-E5"], "range": ["#000000","#5cb947","#f02828","#000000","#5cb947","#f02828"]}, "legend": null}
   }},
  {"mark": {"type": "point", "clip": true, "filled": false, "size": 100, "strokeWidth": 1, "opacity": 1},
   "encoding": {
    "x": {"field": "threads", "type": "quantitative", "scale": {"type": "log", "base": 2, "domain": [1, 32], "nice": false}, "axis": {"orient": "top", "values": [1, 2, 4, 8, 16, 32], "labels": false, "title": null, "domain": false}},
    "y": {"field": "time", "type": "quantitative", "scale": {"domain": [0, 9.86], "nice": false}, "axis": {"orient": "right", "values": [0, 1, 2, 3, 4, 5, 6, 7, 8, 9], "labels": false, "title": null, "domain": false}},
    "color": {"field": "series", "type": "nominal", "scale": {"domain": ["CNTK-i7","TF-i7","Torch-i7","CNTK-E5","TF-E5","Torch-E5"], "range": ["#000000","#5cb947","#f02828","#000000","#5cb947","#f02828"]}, "legend": null},
    "shape": {"field": "series", "type": "nominal", "scale": {"domain": ["CNTK-i7","TF-i7","Torch-i7","CNTK-E5","TF-E5","Torch-E5"], "range": ["M-0.6,-0.6L0.6,-0.6L0.6,0.6L-0.6,0.6Z","M0.7,0A0.7,0.7,0,1,1,-0.7,0A0.7,0.7,0,1,1,0.7,0","M0,-0.85L0.6,0L0,0.85L-0.6,0Z","M0,-0.75L0.7,0.55L-0.7,0.55Z","M-0.75,0L0.55,-0.7L0.55,0.7Z","M0.75,0L-0.55,-0.7L-0.55,0.7Z"]}, "legend": null}
   }},
  {"mark": {"type": "point", "clip": true, "filled": false, "size": 100, "strokeWidth": 1, "opacity": 0},
   "encoding": {
    "x": {"field": "threads", "type": "quantitative", "scale": {"type": "log", "base": 2, "domain": [1, 32], "nice": false}, "axis": null},
    "y": {"field": "time", "type": "quantitative", "scale": {"domain": [0, 9.86], "nice": false}, "axis": null},
    "color": {"field": "series", "type": "nominal", "scale": {"domain": ["CNTK-i7","TF-i7","Torch-i7","CNTK-E5","TF-E5","Torch-E5"], "range": ["#000000","#5cb947","#f02828","#000000","#5cb947","#f02828"]}, "legend": {"title": null, "symbolSize": 576, "symbolOffset": 0, "labelOffset": 6, "rowPadding": 0.4, "clipHeight": 11}},
    "shape": {"field": "series", "type": "nominal", "scale": {"domain": ["CNTK-i7","TF-i7","Torch-i7","CNTK-E5","TF-E5","Torch-E5"], "range": ["M-1.05,0L1.05,0M-0.25,-0.25L0.25,-0.25L0.25,0.25L-0.25,0.25Z","M-1.05,0L1.05,0M0.29,0A0.29,0.29,0,1,1,-0.29,0A0.29,0.29,0,1,1,0.29,0","M-1.05,0L1.05,0M0,-0.35L0.25,0L0,0.35L-0.25,0Z","M-1.05,0L1.05,0M0,-0.31L0.29,0.23L-0.29,0.23Z","M-1.05,0L1.05,0M-0.31,0L0.23,-0.29L0.23,0.29Z","M-1.05,0L1.05,0M0.31,0L-0.23,-0.29L-0.23,0.29Z"]}, "legend": {"title": null, "symbolSize": 576, "symbolOffset": 0, "labelOffset": 6, "rowPadding": 0.4, "clipHeight": 11}}
   }}
 ]
},
{
 "width": 312, "height": 247,
 "title": {"text": "(f)\u00a0 LSTM-64 training speed on CPUs."},
 "transform": [{"filter": "datum.panel == 'f'"}],
 "resolve": {"scale": {"color": "independent", "shape": "independent"}, "axis": {"x": "independent", "y": "independent"}},
 "layer": [
  {"mark": {"type": "line", "clip": true, "strokeWidth": 1},
   "encoding": {
    "x": {"field": "threads", "type": "quantitative", "scale": {"type": "log", "base": 2, "domain": [1, 32], "nice": false}, "axis": {"values": [1, 2, 4, 8, 16, 32], "format": "d", "title": "Number of CPU threads"}},
    "y": {"field": "time", "type": "quantitative", "scale": {"domain": [0, 13.3], "nice": false}, "axis": {"values": [0, 2, 4, 6, 8, 10, 12], "title": "Time(s)/Mini-batch"}},
    "color": {"field": "series", "type": "nominal", "scale": {"domain": ["CNTK-i7","TF-i7","Torch-i7","CNTK-E5","TF-E5","Torch-E5"], "range": ["#000000","#5cb947","#f02828","#000000","#5cb947","#f02828"]}, "legend": null}
   }},
  {"mark": {"type": "point", "clip": true, "filled": false, "size": 100, "strokeWidth": 1, "opacity": 1},
   "encoding": {
    "x": {"field": "threads", "type": "quantitative", "scale": {"type": "log", "base": 2, "domain": [1, 32], "nice": false}, "axis": {"orient": "top", "values": [1, 2, 4, 8, 16, 32], "labels": false, "title": null, "domain": false}},
    "y": {"field": "time", "type": "quantitative", "scale": {"domain": [0, 13.3], "nice": false}, "axis": {"orient": "right", "values": [0, 2, 4, 6, 8, 10, 12], "labels": false, "title": null, "domain": false}},
    "color": {"field": "series", "type": "nominal", "scale": {"domain": ["CNTK-i7","TF-i7","Torch-i7","CNTK-E5","TF-E5","Torch-E5"], "range": ["#000000","#5cb947","#f02828","#000000","#5cb947","#f02828"]}, "legend": null},
    "shape": {"field": "series", "type": "nominal", "scale": {"domain": ["CNTK-i7","TF-i7","Torch-i7","CNTK-E5","TF-E5","Torch-E5"], "range": ["M-0.6,-0.6L0.6,-0.6L0.6,0.6L-0.6,0.6Z","M0.7,0A0.7,0.7,0,1,1,-0.7,0A0.7,0.7,0,1,1,0.7,0","M0,-0.85L0.6,0L0,0.85L-0.6,0Z","M0,-0.75L0.7,0.55L-0.7,0.55Z","M-0.75,0L0.55,-0.7L0.55,0.7Z","M0.75,0L-0.55,-0.7L-0.55,0.7Z"]}, "legend": null}
   }},
  {"mark": {"type": "point", "clip": true, "filled": false, "size": 100, "strokeWidth": 1, "opacity": 0},
   "encoding": {
    "x": {"field": "threads", "type": "quantitative", "scale": {"type": "log", "base": 2, "domain": [1, 32], "nice": false}, "axis": null},
    "y": {"field": "time", "type": "quantitative", "scale": {"domain": [0, 13.3], "nice": false}, "axis": null},
    "color": {"field": "series", "type": "nominal", "scale": {"domain": ["CNTK-i7","TF-i7","Torch-i7","CNTK-E5","TF-E5","Torch-E5"], "range": ["#000000","#5cb947","#f02828","#000000","#5cb947","#f02828"]}, "legend": {"title": null, "symbolSize": 576, "symbolOffset": 0, "labelOffset": 6, "rowPadding": 0.4, "clipHeight": 11}},
    "shape": {"field": "series", "type": "nominal", "scale": {"domain": ["CNTK-i7","TF-i7","Torch-i7","CNTK-E5","TF-E5","Torch-E5"], "range": ["M-1.05,0L1.05,0M-0.25,-0.25L0.25,-0.25L0.25,0.25L-0.25,0.25Z","M-1.05,0L1.05,0M0.29,0A0.29,0.29,0,1,1,-0.29,0A0.29,0.29,0,1,1,0.29,0","M-1.05,0L1.05,0M0,-0.35L0.25,0L0,0.35L-0.25,0Z","M-1.05,0L1.05,0M0,-0.31L0.29,0.23L-0.29,0.23Z","M-1.05,0L1.05,0M-0.31,0L0.23,-0.29L0.23,0.29Z","M-1.05,0L1.05,0M0.31,0L-0.23,-0.29L-0.23,0.29Z"]}, "legend": {"title": null, "symbolSize": 576, "symbolOffset": 0, "labelOffset": 6, "rowPadding": 0.4, "clipHeight": 11}}
   }}
 ]
}
],
"config": {
 "view": {"stroke": "#333333", "strokeWidth": 1},
 "axis": {"grid": false, "labelFont": "Liberation Sans", "labelFontSize": 10, "labelColor": "#333333", "titleFont": "Liberation Sans", "titleFontSize": 11, "titleFontWeight": "normal", "titleColor": "#333333", "domainColor": "#333333", "tickColor": "#333333", "tickSize": -4, "labelPadding": 7},
 "axisY": {"labelPadding": 8, "titlePadding": 3},
 "axisX": {"labelPadding": 9, "titlePadding": 5},
 "legend": {"orient": "top-right", "offset": 8, "padding": 5, "strokeColor": "#333333", "fillColor": "white", "labelFont": "Liberation Sans", "labelFontSize": 9.5, "labelColor": "#000000", "symbolStrokeWidth": 1},
 "title": {"orient": "bottom", "font": "Liberation Serif", "fontSize": 22, "fontWeight": "normal", "color": "#000000", "offset": 18, "anchor": "middle", "frame": "group"}
}
}
